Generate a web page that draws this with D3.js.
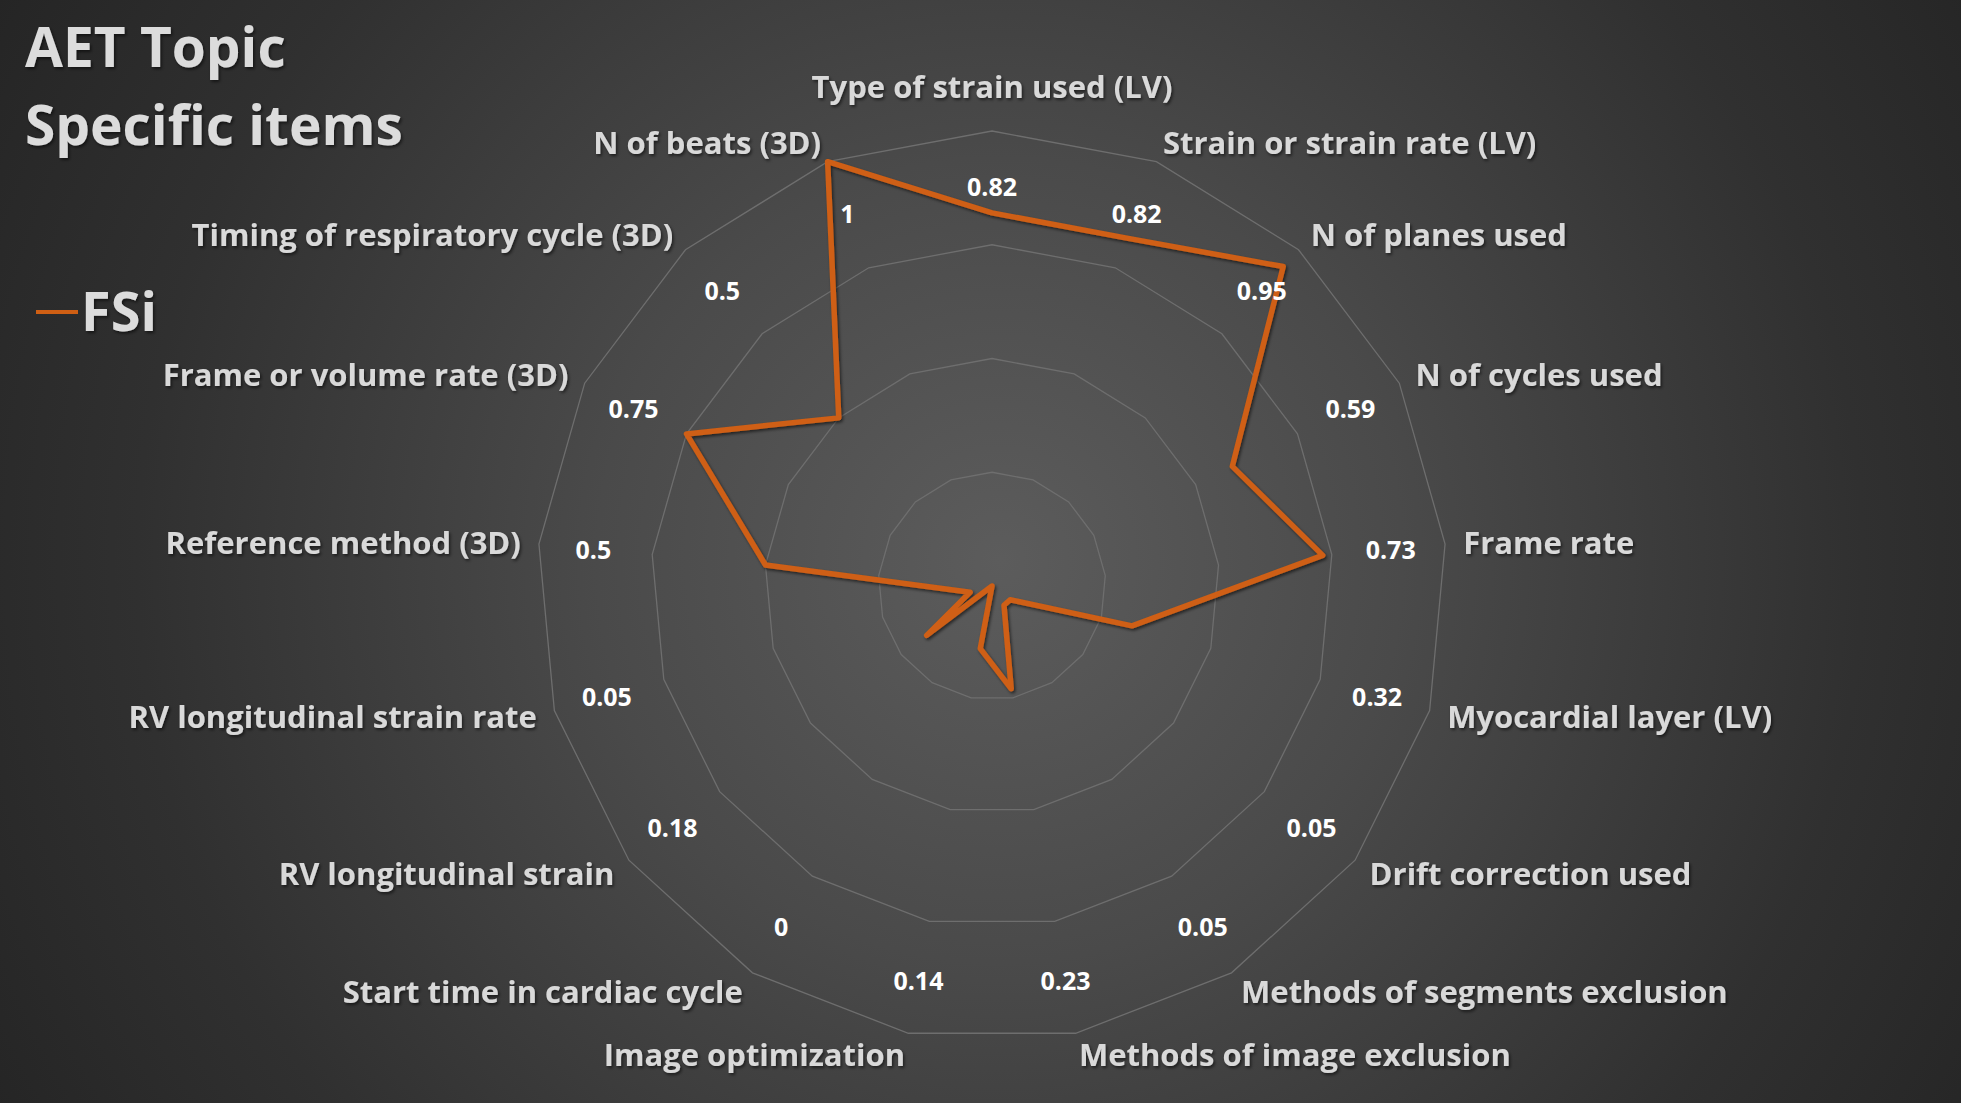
<!DOCTYPE html>
<html>
<head>
<meta charset="utf-8">
<script src="https://cdn.jsdelivr.net/npm/d3@7"></script>
<style>
  html, body { margin: 0; padding: 0; background: #2a2a2a; }
  svg { display: block; }
</style>
</head>
<body>
<svg id="chart" width="1961" height="1103"></svg>
<script>
const categories = [
  "Type of strain used (LV)",
  "Strain or strain rate (LV)",
  "N of planes used",
  "N of cycles used",
  "Frame rate",
  "Myocardial layer (LV)",
  "Drift correction used",
  "Methods of segments exclusion",
  "Methods of image exclusion",
  "Image optimization",
  "Start time in cardiac cycle",
  "RV longitudinal strain",
  "RV longitudinal strain rate",
  "Reference method (3D)",
  "Frame or volume rate (3D)",
  "Timing of respiratory cycle (3D)",
  "N of beats (3D)"
];
const fsiValues = [0.82, 0.82, 0.95, 0.59, 0.73, 0.32, 0.05, 0.05, 0.23, 0.14, 0, 0.18, 0.05, 0.5, 0.75, 0.5, 1];
const gridLevels = [0.25, 0.5, 0.75, 1];
const seriesName = "FSi";
const titleLines = ["AET Topic", "Specific items"];

const W = 1961, H = 1103;
const cx = 992, cy = 586, R = 455;
const svg = d3.select("#chart");
const defs = svg.append("defs");

const bg = defs.append("radialGradient").attr("id", "bg")
  .attr("gradientUnits", "userSpaceOnUse")
  .attr("cx", 1000).attr("cy", 560).attr("r", 1150);
bg.append("stop").attr("offset", "0").attr("stop-color", "#5c5c5c");
bg.append("stop").attr("offset", "0.35").attr("stop-color", "#4a4a4a");
bg.append("stop").attr("offset", "0.75").attr("stop-color", "#303030");
bg.append("stop").attr("offset", "1").attr("stop-color", "#252525");

const sh = defs.append("filter").attr("id", "shadow").attr("x", "-10%").attr("y", "-10%").attr("width", "120%").attr("height", "120%");
sh.append("feDropShadow").attr("dx", 1.5).attr("dy", 2).attr("stdDeviation", 1.5)
  .attr("flood-color", "#000").attr("flood-opacity", 0.55);

svg.append("rect").attr("width", W).attr("height", H).attr("fill", "url(#bg)");

const n = categories.length;
const angle = d3.scaleLinear().domain([0, n]).range([0, 2 * Math.PI]);
const r = d3.scaleLinear().domain([0, 1]).range([0, R]);
const g = svg.append("g").attr("transform", `translate(${cx},${cy})`);

const pt = (i, v) => [r(v) * Math.sin(angle(i)), -r(v) * Math.cos(angle(i))];

// grid rings (polygons)
const ringLine = d3.line().curve(d3.curveLinearClosed);
g.selectAll("path.ring").data(gridLevels).join("path")
  .attr("class", "ring")
  .attr("d", lv => ringLine(d3.range(n).map(i => pt(i, lv))))
  .attr("fill", "none").attr("stroke", "#6e6e6e").attr("stroke-width", 1.3);

// series polygon
const radial = d3.lineRadial().angle((d, i) => angle(i)).radius(d => r(d)).curve(d3.curveLinearClosed);
g.append("path").datum(fsiValues)
  .attr("d", radial)
  .attr("fill", "none")
  .attr("stroke", "#cf5f14")
  .attr("stroke-width", 5.5)
  .attr("stroke-linejoin", "round")
  .attr("filter", "url(#shadow)");

// data labels
g.selectAll("text.val").data(fsiValues).join("text")
  .attr("class", "val")
  .attr("x", (d, i) => pt(i, 0.88)[0])
  .attr("y", (d, i) => pt(i, 0.88)[1])
  .attr("text-anchor", "middle")
  .attr("dominant-baseline", "central")
  .attr("font-family", "'Open Sans', sans-serif")
  .attr("font-weight", 700)
  .attr("font-size", 25)
  .attr("fill", "#ffffff")
  .text(d => String(d));

// category labels
g.selectAll("text.cat").data(categories).join("text")
  .attr("class", "cat")
  .each(function (d, i) {
    const [x, y] = pt(i, 1.04);
    const s = Math.sin(angle(i));
    const c = Math.cos(angle(i));
    const el = d3.select(this);
    if (Math.abs(s) < 0.05) {
      el.attr("x", x).attr("y", y - 15).attr("text-anchor", "middle");
    } else {
      el.attr("x", x).attr("y", y - 3 * c).attr("text-anchor", s > 0 ? "start" : "end")
        .attr("dominant-baseline", "central");
    }
  })
  .attr("font-family", "'Open Sans', sans-serif")
  .attr("font-weight", 700)
  .attr("font-size", 31)
  .attr("fill", "#d9d9d9")
  .attr("filter", "url(#shadow)")
  .text(d => d);

// title
svg.append("text")
  .attr("x", 25).attr("y", 67)
  .attr("font-family", "'Open Sans', sans-serif")
  .attr("font-weight", 700)
  .attr("font-size", 55)
  .attr("fill", "#dcdcdc")
  .attr("filter", "url(#shadow)")
  .selectAll("tspan").data(titleLines).join("tspan")
  .attr("x", 25).attr("dy", (d, i) => i === 0 ? 0 : 78)
  .text(d => d);

// legend
const lg = svg.append("g");
lg.append("line").attr("x1", 36).attr("x2", 78).attr("y1", 312).attr("y2", 312)
  .attr("stroke", "#cf5f14").attr("stroke-width", 4);
lg.append("text").attr("x", 81).attr("y", 331)
  .attr("font-family", "'Open Sans', sans-serif")
  .attr("font-weight", 700)
  .attr("font-size", 54)
  .attr("fill", "#dcdcdc")
  .attr("filter", "url(#shadow)")
  .text(seriesName);
</script>
</body>
</html>
